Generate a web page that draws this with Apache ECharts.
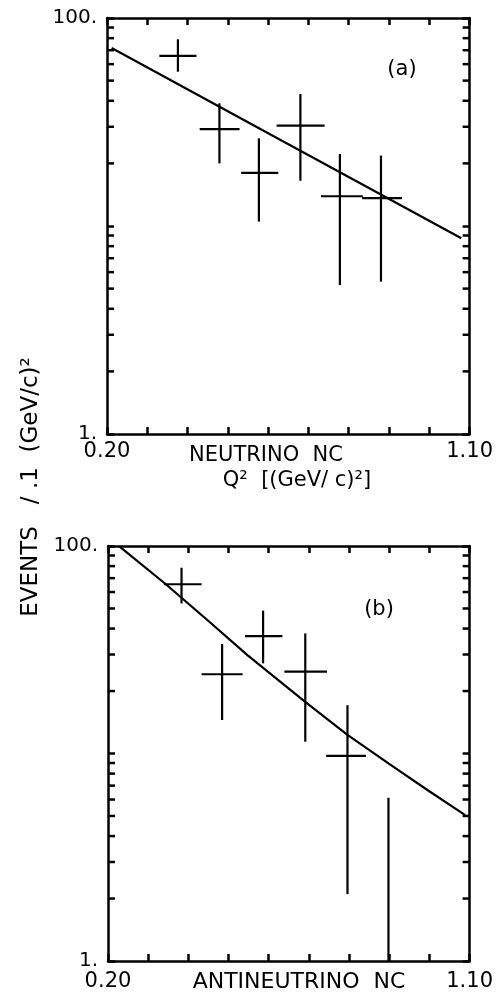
<!DOCTYPE html>
<html>
<head>
<meta charset="utf-8">
<script src="https://cdn.jsdelivr.net/npm/echarts@6/dist/echarts.min.js"></script>
<style>
  html, body { margin: 0; padding: 0; background: #fff; }
  #main { width: 496px; height: 996px; }
</style>
</head>
<body>
<div id="main"></div>
<script>
// (a) neutrino NC ---------------------------------------------------------------
var nuQ2 = [0.376, 0.479, 0.577, 0.680, 0.778, 0.880];
var nuQ2Lo = [0.330, 0.430, 0.533, 0.621, 0.731, 0.833];
var nuQ2Hi = [0.422, 0.529, 0.625, 0.740, 0.835, 0.932];
var nuEvents = [65.7, 29.2, 18.0, 30.4, 13.9, 13.6];
var nuErrLo = [55.2, 20.0, 10.5, 16.5, 5.2, 5.4];
var nuErrHi = [79.0, 38.9, 26.4, 43.1, 22.2, 21.8];
var nuFitQ2 = [0.2115, 0.600, 1.0795];
var nuFit = [71.7, 27.9, 8.73];

// (b) antineutrino NC ---------------------------------------------------------------
var anuQ2 = [0.383, 0.484, 0.586, 0.691, 0.796, 0.898];
var anuQ2Lo = [0.339, 0.433, 0.541, 0.639, 0.743, 0.848];
var anuQ2Hi = [0.433, 0.535, 0.634, 0.745, 0.842, 0.948];
var anuEvents = [65.4, 24.1, 36.8, 24.8, 9.73, 0.6];
var anuErrLo = [52.9, 14.5, 27.2, 11.4, 2.10, 0.3];
var anuErrHi = [78.6, 33.7, 48.8, 37.9, 17.1, 6.12];
var anuFitQ2 = [0.229, 0.344, 0.450, 0.547, 0.690, 0.796, 0.898, 0.995, 1.089];
var anuFit = [99.3, 65.4, 43.5, 29.8, 17.8, 12.3, 8.97, 6.67, 5.05];

// axes
var q2Min = 0.2;
var q2Max = 1.1;
var q2Step = 0.1;
var evMin = 1;
var evMax = 100;
var minorTicks = [2, 3, 4, 5, 6, 7, 8, 9, 20, 30, 40, 50, 60, 70, 80, 90];

var FONT = 'DejaVu Sans';
var LW = 2.2;

function rows(xc, y, xl, xh, yl, yh) {
    var out = [];
    for (var i = 0; i < xc.length; i++) {
        out.push([xc[i], y[i], xl[i], xh[i], yl[i], yh[i]]);
    }
    return out;
}
function pairs(x, y) {
    var out = [];
    for (var i = 0; i < x.length; i++) out.push([x[i], y[i]]);
    return out;
}

// 误差十字
function crossItem(params, api) {
    var a = api.coord([api.value(2), api.value(1)]);
    var b = api.coord([api.value(3), api.value(1)]);
    var c = api.coord([api.value(0), api.value(4)]);
    var d = api.coord([api.value(0), api.value(5)]);
    var st = { stroke: '#000', lineWidth: LW };
    return {
        type: 'group',
        children: [
            { type: 'line', shape: { x1: a[0], y1: a[1], x2: b[0], y2: b[1] }, style: st },
            { type: 'line', shape: { x1: c[0], y1: c[1], x2: d[0], y2: d[1] }, style: st }
        ]
    };
}

// log minor ticks on both sides
function minorItem(params, api) {
    var v = api.value(1);
    var l = api.coord([q2Min, v]);
    var r = api.coord([q2Max, v]);
    var st = { stroke: '#000', lineWidth: 2.5 };
    return {
        type: 'group',
        children: [
            { type: 'line', shape: { x1: l[0], y1: l[1], x2: l[0] + 7, y2: l[1] }, style: st },
            { type: 'line', shape: { x1: r[0], y1: r[1], x2: r[0] - 7, y2: r[1] }, style: st }
        ]
    };
}

function xAxisOf(gridIndex, pos, labelMargin) {
    return {
        type: 'value',
        gridIndex: gridIndex,
        position: pos,
        min: q2Min,
        max: q2Max,
        interval: q2Step,
        splitLine: { show: false },
        axisLine: { show: true, onZero: false, lineStyle: { color: '#000', width: 2.5 } },
        axisTick: { show: true, inside: true, length: 7, lineStyle: { color: '#000', width: 2.5 } },
        axisLabel: {
            show: pos === 'bottom',
            margin: labelMargin,
            showMinLabel: true,
            showMaxLabel: true,
            color: '#000',
            fontFamily: FONT,
            fontSize: 21,
            formatter: function (v) {
                if (Math.abs(v - q2Min) < 1e-6) return '0.20';
                if (Math.abs(v - q2Max) < 1e-6) return '1.10';
                return '';
            }
        }
    };
}

function yAxisOf(gridIndex, pos) {
    return {
        type: 'log',
        logBase: 10,
        gridIndex: gridIndex,
        position: pos,
        min: evMin,
        max: evMax,
        splitLine: { show: false },
        axisLine: { show: true, onZero: false, lineStyle: { color: '#000', width: 2.5 } },
        axisTick: { show: true, inside: true, length: 7, lineStyle: { color: '#000', width: 2.5 } },
        axisLabel: {
            show: pos === 'left',
            margin: 10,
            color: '#000',
            fontFamily: FONT,
            fontSize: 20,
            formatter: function (v) {
                var r = Math.round(v);
                if (r === 1) return '1.';
                if (r === 100) return '100.';
                return '';
            }
        }
    };
}

var myChart = echarts.init(document.getElementById('main'));

var option = {
    backgroundColor: '#fff',
    animation: false,
    grid: [
        { left: 107, top: 18, width: 368, height: 416 },
        { left: 108, top: 546, width: 368, height: 415 }
    ],
    xAxis: [
        xAxisOf(0, 'bottom', 7), xAxisOf(0, 'top', 8),
        xAxisOf(1, 'bottom', 10), xAxisOf(1, 'top', 8)
    ],
    yAxis: [
        yAxisOf(0, 'left'), yAxisOf(0, 'right'),
        yAxisOf(1, 'left'), yAxisOf(1, 'right')
    ],
    series: [
        {
            type: 'custom', xAxisIndex: 0, yAxisIndex: 0, clip: true,
            renderItem: crossItem,
            data: rows(nuQ2, nuEvents, nuQ2Lo, nuQ2Hi, nuErrLo, nuErrHi)
        },
        {
            type: 'line', xAxisIndex: 0, yAxisIndex: 0,
            showSymbol: false, symbol: 'none',
            lineStyle: { color: '#000', width: LW },
            data: pairs(nuFitQ2, nuFit)
        },
        {
            type: 'custom', xAxisIndex: 0, yAxisIndex: 0,
            renderItem: minorItem,
            data: minorTicks.map(function (v) { return [q2Min, v]; })
        },
        {
            type: 'custom', xAxisIndex: 2, yAxisIndex: 2, clip: true,
            renderItem: crossItem,
            data: rows(anuQ2, anuEvents, anuQ2Lo, anuQ2Hi, anuErrLo, anuErrHi)
        },
        {
            type: 'line', xAxisIndex: 2, yAxisIndex: 2,
            showSymbol: false, symbol: 'none', smooth: false,
            lineStyle: { color: '#000', width: LW },
            data: pairs(anuFitQ2, anuFit)
        },
        {
            type: 'custom', xAxisIndex: 2, yAxisIndex: 2,
            renderItem: minorItem,
            data: minorTicks.map(function (v) { return [q2Min, v]; })
        }
    ],
    graphic: [
        { type: 'text', x: 402, y: 70, style: { text: '(a)', font: '21px ' + FONT, fill: '#000', align: 'center', verticalAlign: 'middle' } },
        { type: 'text', x: 379, y: 610, style: { text: '(b)', font: '21px ' + FONT, fill: '#000', align: 'center', verticalAlign: 'middle' } },
        { type: 'text', x: 266, y: 456, style: { text: 'NEUTRINO  NC', font: '21px ' + FONT, fill: '#000', align: 'center', verticalAlign: 'middle' } },
        { type: 'text', x: 297, y: 481, style: { text: 'Q\u00b2  [(GeV/ c)\u00b2]', font: '21px ' + FONT, fill: '#000', align: 'center', verticalAlign: 'middle' } },
        { type: 'text', x: 299, y: 982, style: { text: 'ANTINEUTRINO  NC', font: '22px ' + FONT, fill: '#000', align: 'center', verticalAlign: 'middle' } },
        {
            type: 'text', x: 31, y: 487, rotation: Math.PI / 2,
            style: { text: 'EVENTS   / .1  (GeV/c)\u00b2', font: '23px ' + FONT, fill: '#000', align: 'center', verticalAlign: 'middle' }
        }
    ]
};

option && myChart.setOption(option);
</script>
</body>
</html>
